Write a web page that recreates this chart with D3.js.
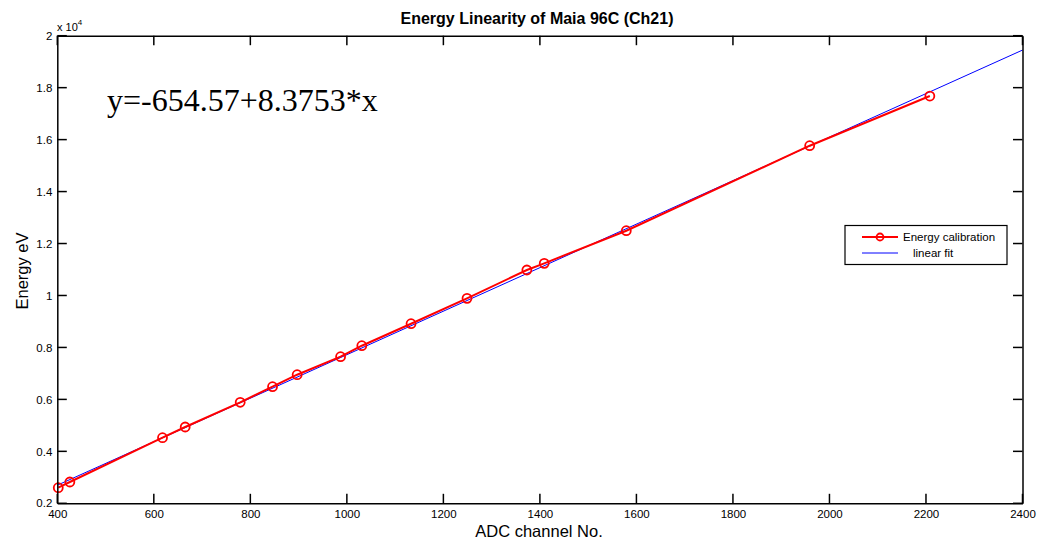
<!DOCTYPE html>
<html><head><meta charset="utf-8">
<script src="https://cdn.jsdelivr.net/npm/d3@7"></script>
<style>body{margin:0;background:#fff;} svg{display:block;font-family:"Liberation Sans",Arial,sans-serif;}</style>
</head><body>
<svg id="c" width="1038" height="541"></svg>
<script>
const channels = [402, 426, 618, 665, 779, 846, 897, 987, 1031, 1133, 1249, 1373, 1409, 1579, 1959, 2208];
const energies = [2600, 2820, 4525, 4937, 5888, 6488, 6950, 7643, 8066, 8913, 9891, 10980, 11238, 12493, 15765, 17677];
const fitIntercept = -654.57;
const fitSlope = 8.3753;
const fitRange = [400, 2400];
const xTicks = [400, 600, 800, 1000, 1200, 1400, 1600, 1800, 2000, 2200, 2400];
const yTicks = [2000, 4000, 6000, 8000, 10000, 12000, 14000, 16000, 18000, 20000];
const yTickLabels = ["0.2","0.4","0.6","0.8","1","1.2","1.4","1.6","1.8","2"];

const svg = d3.select("#c");
const L = 57.3, R = 1022.5, T = 35.7, B = 503.3;
const x = d3.scaleLinear().domain([400, 2400]).range([L, R]);
const y = d3.scaleLinear().domain([2000, 20000]).range([B, T]);
const tl = 9.5;

// tick marks (inward, on all four sides)
const tg = svg.append("g");
function tick(x1, y1, x2, y2) {
  tg.append("line").attr("x1", x1).attr("y1", y1).attr("x2", x2).attr("y2", y2)
    .attr("stroke", "#000").attr("stroke-width", 1.5);
}
xTicks.forEach(v => { tick(x(v), B, x(v), B - tl); tick(x(v), T, x(v), T + tl); });
yTicks.forEach(v => { tick(L, y(v), L + tl, y(v)); tick(R, y(v), R - tl, y(v)); });

// fit line
const fitData = fitRange.map(v => [v, fitIntercept + fitSlope * v]);
svg.append("path").datum(fitData)
  .attr("d", d3.line().x(d => x(d[0])).y(d => y(d[1])))
  .attr("fill", "none").attr("stroke", "#0000ff").attr("stroke-width", 1);

// calibration line
const pts = channels.map((c, i) => [c, energies[i]]);
svg.append("path").datum(pts)
  .attr("d", d3.line().x(d => x(d[0])).y(d => y(d[1])))
  .attr("fill", "none").attr("stroke", "#ff0000").attr("stroke-width", 2);
svg.append("g").selectAll("circle").data(pts).join("circle")
  .attr("cx", d => x(d[0])).attr("cy", d => y(d[1])).attr("r", 4.5)
  .attr("fill", "none").attr("stroke", "#ff0000").attr("stroke-width", 1.8);

// axes (labels + box)
const gb = svg.append("g").attr("transform", `translate(0,${B})`)
  .call(d3.axisBottom(x).tickValues(xTicks).tickSize(0).tickPadding(7).tickFormat(d3.format("d")));
const gt = svg.append("g").attr("transform", `translate(0,${T})`)
  .call(d3.axisTop(x).tickValues(xTicks).tickSize(0).tickFormat(""));
const gl = svg.append("g").attr("transform", `translate(${L},0)`)
  .call(d3.axisLeft(y).tickValues(yTicks).tickSize(0).tickPadding(5)
    .tickFormat((d, i) => yTickLabels[i]));
const gr = svg.append("g").attr("transform", `translate(${R},0)`)
  .call(d3.axisRight(y).tickValues(yTicks).tickSize(0).tickFormat(""));
[gb, gt, gl, gr].forEach(g => {
  g.select(".domain").attr("stroke", "#000").attr("stroke-width", 1.5);
  g.selectAll(".tick text").attr("fill", "#000").style("font-size", "11.5px")
    .style("font-family", "'Liberation Sans',Arial,sans-serif");
});

// exponent label
const ex = svg.append("text").attr("x", 57).attr("y", 31).style("font-size", "11px").attr("fill", "#000");
ex.append("tspan").text("x 10");
ex.append("tspan").attr("dy", -6).style("font-size", "8px").text("4");

// title
svg.append("text").attr("x", 537).attr("y", 24).attr("text-anchor", "middle")
  .style("font-size", "16px").style("font-weight", "bold").text("Energy Linearity of Maia 96C (Ch21)");
// axis labels
svg.append("text").attr("x", 539).attr("y", 537).attr("text-anchor", "middle")
  .style("font-size", "16.5px").text("ADC channel No.");
svg.append("text").attr("transform", "translate(28,271) rotate(-90)").attr("text-anchor", "middle")
  .style("font-size", "16.5px").text("Energy eV");

// equation
svg.append("text").attr("x", 107).attr("y", 111)
  .style("font-family", "'Liberation Serif','Times New Roman',serif").style("font-size", "32px")
  .text("y=-654.57+8.3753*x");

// legend
const lg = svg.append("g");
lg.append("rect").attr("x", 845).attr("y", 225.5).attr("width", 162).attr("height", 39)
  .attr("fill", "#fff").attr("stroke", "#000").attr("stroke-width", 1.2);
lg.append("line").attr("x1", 862).attr("x2", 898).attr("y1", 237).attr("y2", 237)
  .attr("stroke", "#ff0000").attr("stroke-width", 2);
lg.append("circle").attr("cx", 880).attr("cy", 237).attr("r", 3.5)
  .attr("fill", "none").attr("stroke", "#ff0000").attr("stroke-width", 1.8);
lg.append("text").attr("x", 903).attr("y", 241).style("font-size", "11.5px").text("Energy calibration");
lg.append("line").attr("x1", 862).attr("x2", 898).attr("y1", 253).attr("y2", 253)
  .attr("stroke", "#0000ff").attr("stroke-width", 1);
lg.append("text").attr("x", 913).attr("y", 257).style("font-size", "11.5px").text("linear fit");
</script>
</body></html>
